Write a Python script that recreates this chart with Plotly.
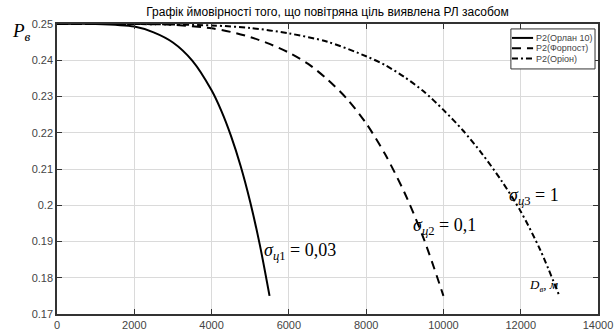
import plotly.graph_objects as go

# Data
d_orlan = [0, 1000, 2000, 2500, 3000, 3500, 4000, 4250, 4500, 4750, 5000, 5250, 5500]
p_orlan = [0.25, 0.25, 0.2493, 0.2477, 0.2449, 0.2399, 0.2317, 0.2261, 0.2192, 0.2109, 0.2009, 0.1890, 0.175]

d_forpost = [0, 2000, 3000, 4000, 4500, 5000, 5500, 6000, 6500, 7000, 7500, 8000, 8500, 9000, 9500, 10000]
p_forpost = [0.25, 0.25, 0.2498, 0.2488, 0.2478, 0.2464, 0.2445, 0.2421, 0.2390, 0.2347, 0.2294, 0.2226, 0.2139, 0.2033, 0.1905, 0.175]

d_orion = [0, 2000, 4000, 5000, 6000, 7000, 8000, 8500, 9000, 9500, 10000, 10500, 11000, 11500, 12000, 12500, 13000]
p_orion = [0.25, 0.25, 0.2496, 0.2489, 0.2474, 0.2451, 0.2411, 0.2386, 0.2353, 0.2313, 0.2263, 0.2207, 0.2142, 0.2068, 0.1983, 0.1878, 0.175]

names = ["P2(Орлан 10)", "P2(Форпост)", "P2(Оріон)"]
dashes = ["solid", "9px,6px", "6px,3px,2px,3px"]
x_ticks = [0, 2000, 4000, 6000, 8000, 10000, 12000, 14000]
y_ticks = [0.17, 0.18, 0.19, 0.2, 0.21, 0.22, 0.23, 0.24, 0.25]

fig = go.Figure()
for d, p, nm, ds in zip([d_orlan, d_forpost, d_orion], [p_orlan, p_forpost, p_orion], names, dashes):
    fig.add_trace(go.Scatter(x=d, y=p, mode="lines", name=nm, showlegend=False,
                             line=dict(color="black", width=2, dash=ds, shape="spline", smoothing=0.8)))

axis_common = dict(
    showgrid=True, gridcolor="#dadada", gridwidth=1,
    showline=True, linecolor="#333333", linewidth=1.5, mirror="ticks",
    ticks="inside", ticklen=5, tickcolor="#333333",
    tickfont=dict(family="Liberation Sans, Arial", size=11, color="#444444"),
    zeroline=False, automargin=False,
)

fig.update_layout(
    width=616, height=334,
    margin=dict(l=57, r=18, t=24, b=20),
    paper_bgcolor="white", plot_bgcolor="white",
    title=dict(text="Графік ймовірності того, що повітряна ціль виявлена РЛ засобом",
               x=0.5, xref="paper", xanchor="center",
               y=1 - 12 / 334, yref="container", yanchor="middle",
               font=dict(family="Liberation Sans, Arial", size=12, color="black")),
    xaxis=dict(range=[0, 14000], tickvals=x_ticks, ticktext=[str(v) for v in x_ticks], **axis_common),
    yaxis=dict(range=[0.17, 0.25], tickvals=y_ticks, ticktext=[f"{v:g}" for v in y_ticks], **axis_common),
    showlegend=False,
)

# Legend box (drawn in paper coordinates, top-right of the axes)
fig.add_shape(type="rect", xref="paper", yref="paper", x0=0.839, x1=0.9945, y0=0.845, y1=0.983,
              line=dict(color="#333333", width=1), fillcolor="white", layer="above")
row_y = [0.952, 0.916, 0.881]
for nm, ds, yy in zip(names, dashes, row_y):
    fig.add_shape(type="line", xref="paper", yref="paper", x0=0.841, x1=0.880, y0=yy, y1=yy,
                  line=dict(color="black", width=2, dash=ds), layer="above")
    fig.add_annotation(text=nm, xref="paper", yref="paper", x=0.881, y=yy,
                       xanchor="left", yanchor="middle", showarrow=False,
                       font=dict(family="Liberation Sans, Arial", size=9, color="#444444"))

serif = "Liberation Serif, Times New Roman"
fig.add_annotation(text="<i>P</i><sub><i>в</i></sub>", xref="paper", yref="paper",
                   x=-0.087, y=0.972, xanchor="left", yanchor="middle", showarrow=False,
                   font=dict(family=serif, size=19, color="black"))
fig.add_annotation(text="<i>σ</i><sub><i>ц</i>1</sub> = 0,03", x=5300, y=0.1872,
                   xanchor="left", yanchor="middle", showarrow=False,
                   font=dict(family=serif, size=18, color="black"))
fig.add_annotation(text="<i>σ</i><sub><i>ц</i>2</sub> = 0,1", x=9150, y=0.1942,
                   xanchor="left", yanchor="middle", showarrow=False,
                   font=dict(family=serif, size=18, color="black"))
fig.add_annotation(text="<i>σ</i><sub><i>ц</i>3</sub> = 1", x=11650, y=0.2024,
                   xanchor="left", yanchor="middle", showarrow=False,
                   font=dict(family=serif, size=18, color="black"))
fig.add_annotation(text="<i>D</i><sub><i>в</i></sub><i>, м</i>", x=12150, y=0.1778,
                   xanchor="left", yanchor="middle", showarrow=False,
                   font=dict(family=serif, size=13, color="black"))

fig.write_html("out.html", config={"displayModeBar": False},
               post_script="document.body.style.margin='0';")
